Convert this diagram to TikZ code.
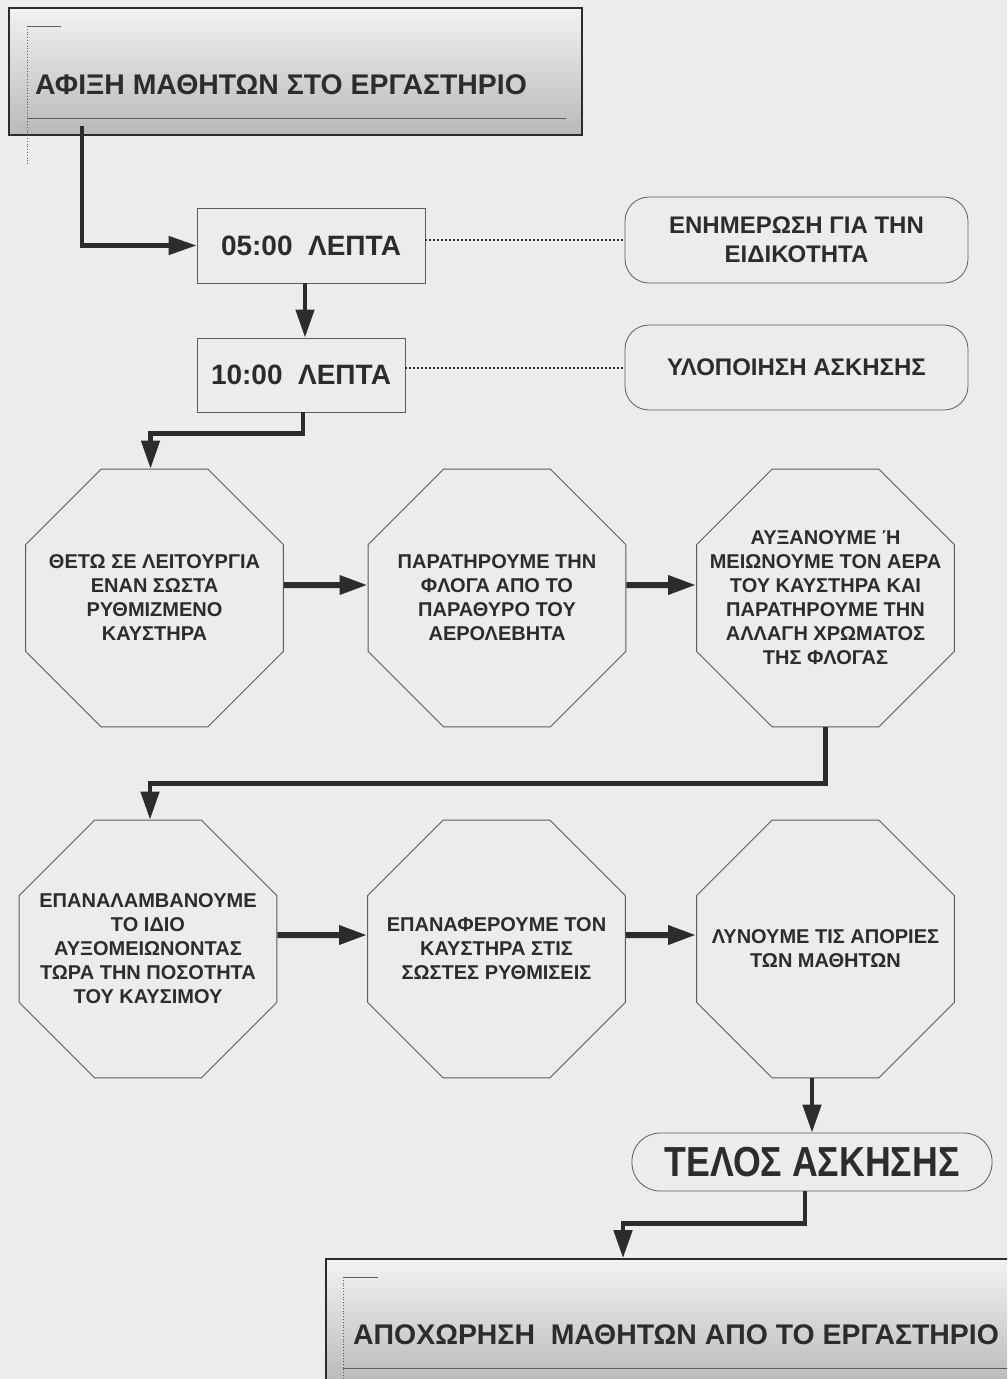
\documentclass[tikz,border=0pt]{standalone}
\usepackage{fontspec}
\setmainfont{Liberation Sans}
\newfontfamily\condfont{Liberation Sans}[FakeStretch=0.85]
\usetikzlibrary{shapes.geometric, arrows.meta, positioning}
\definecolor{paper}{HTML}{ECECEE}
\definecolor{ink}{HTML}{2C2C2C}
\definecolor{edge}{HTML}{5C5C5C}

\begin{document}
\begin{tikzpicture}[
    x=1pt, y=-1pt,
    text=ink,
    titlebox/.style={rectangle, draw=ink, line width=1.6pt, top color=white!90!gray, bottom color=gray!55, minimum width=573pt, minimum height=127pt, inner sep=0pt},
    titletext/.style={anchor=west, inner sep=0pt, font=\fontsize{28.4}{32}\selectfont\bfseries},
    timebox/.style={rectangle, draw=edge, line width=0.8pt, minimum height=75pt, font=\fontsize{28}{32}\selectfont\bfseries},
    notebox/.style={rectangle, rounded corners=24pt, draw=edge, line width=0.8pt, minimum width=343pt, minimum height=86pt, align=center, font=\fontsize{24}{29}\selectfont\bfseries},
    octa/.style={regular polygon, regular polygon sides=8, minimum size=279pt, inner sep=-45pt, draw=edge, line width=0.8pt, align=center, font=\fontsize{20}{24}\selectfont\bfseries},
    endbox/.style={rectangle, rounded corners=28pt, draw=edge, line width=0.8pt, minimum width=360pt, minimum height=58pt, font=\condfont\fontsize{42}{46}\selectfont\bfseries},
    flow/.style={draw=ink, line width=4.5pt, -{Triangle[width=18pt, length=28pt]}},
    push/.style={draw=ink, line width=6pt, -{Triangle[width=18pt, length=28pt]}},
    link/.style={draw=ink, line width=2pt, dotted}
]
    \clip (0,0) rectangle (1007,1379);
    \fill[paper] (0,0) rectangle (1007,1379);

    % arrival
    \node[titlebox] (arrive) at (295.5,71.5) {};
    \node[titletext] (arrivetext) at (35,85) {ΑΦΙΞΗ ΜΑΘΗΤΩΝ ΣΤΟ ΕΡΓΑΣΤΗΡΙΟ};
    \draw[edge, line width=0.8pt] (61,26) -- (27,26);
    \draw[edge, line width=0.8pt, dotted] (27,26) -- (27,165);
    \draw[edge, line width=1pt] (27,118) -- (566,118);

    % time slots and notes
    \node[timebox, minimum width=228pt] (t5) at (311,245.5) {05:00\ \ ΛΕΠΤΑ};
    \node[timebox, minimum width=208pt, minimum height=74pt] (t10) at (301,375) {10:00\ \ ΛΕΠΤΑ};
    \node[notebox] (brief) at (796.5,240) {ΕΝΗΜΕΡΩΣΗ ΓΙΑ ΤΗΝ\\ΕΙΔΙΚΟΤΗΤΑ};
    \node[notebox, minimum height=85pt] (task) at (796.5,367.5) {ΥΛΟΠΟΙΗΣΗ ΑΣΚΗΣΗΣ};

    % steps
    \node[octa] (o1) at (154.5,598) {ΘΕΤΩ ΣΕ ΛΕΙΤΟΥΡΓΙΑ\\ΕΝΑΝ ΣΩΣΤΑ\\ΡΥΘΜΙΖΜΕΝΟ\\ΚΑΥΣΤΗΡΑ};
    \node[octa] (o2) at (497,598) {ΠΑΡΑΤΗΡΟΥΜΕ ΤΗΝ\\ΦΛΟΓΑ ΑΠΟ ΤΟ\\ΠΑΡΑΘΥΡΟ ΤΟΥ\\ΑΕΡΟΛΕΒΗΤΑ};
    \node[octa] (o3) at (825.5,598) {ΑΥΞΑΝΟΥΜΕ Ή\\ΜΕΙΩΝΟΥΜΕ ΤΟΝ ΑΕΡΑ\\ΤΟΥ ΚΑΥΣΤΗΡΑ ΚΑΙ\\ΠΑΡΑΤΗΡΟΥΜΕ ΤΗΝ\\ΑΛΛΑΓΗ ΧΡΩΜΑΤΟΣ\\ΤΗΣ ΦΛΟΓΑΣ};
    \node[octa] (o4) at (148,949) {ΕΠΑΝΑΛΑΜΒΑΝΟΥΜΕ\\ΤΟ ΙΔΙΟ\\ΑΥΞΟΜΕΙΩΝΟΝΤΑΣ\\ΤΩΡΑ ΤΗΝ ΠΟΣΟΤΗΤΑ\\ΤΟΥ ΚΑΥΣΙΜΟΥ};
    \node[octa] (o5) at (496.5,949) {ΕΠΑΝΑΦΕΡΟΥΜΕ ΤΟΝ\\ΚΑΥΣΤΗΡΑ ΣΤΙΣ\\ΣΩΣΤΕΣ ΡΥΘΜΙΣΕΙΣ};
    \node[octa] (o6) at (825.5,949) {ΛΥΝΟΥΜΕ ΤΙΣ ΑΠΟΡΙΕΣ\\ΤΩΝ ΜΑΘΗΤΩΝ};

    \node[endbox] (endex) at (812,1162) {ΤΕΛΟΣ ΑΣΚΗΣΗΣ};

    % departure
    \node[titlebox, minimum width=714pt] (depart) at (683,1322.5) {};
    \node[titletext] (departtext) at (353,1335) {ΑΠΟΧΩΡΗΣΗ\ \ ΜΑΘΗΤΩΝ ΑΠΟ ΤΟ ΕΡΓΑΣΤΗΡΙΟ};
    \draw[edge, line width=0.8pt] (378,1277) -- (343,1277);
    \draw[edge, line width=0.8pt, dotted] (343,1277) -- (343,1390);
    \draw[edge, line width=1pt] (343,1368) -- (1030,1368);

    % connectors
    \draw[flow] ([xshift=74pt, yshift=10pt]arrive.south west) |- (t5.west);
    \coordinate (a5) at ([xshift=-6pt]t5.south);
    \draw[flow] (a5) -- (a5 |- t10.north);
    \draw[link] (t5.east |- brief.west) -- (brief.west);
    \draw[link] (t10.east |- task.west) -- (task.west);
    \draw[flow] ([xshift=2pt]t10.south) -- ++(0,21) -| ([xshift=-4pt]o1.north);
    \draw[push] ([yshift=13pt]o1.east) -- ([yshift=13pt]o2.west);
    \draw[push] ([yshift=13pt]o2.east) -- ([yshift=13pt]o3.west);
    \draw[flow] (o3.south) -- ++(0,56) -| ([xshift=2pt]o4.north);
    \draw[push] ([yshift=14pt]o4.east) -- ([yshift=14pt]o5.west);
    \draw[push] ([yshift=14pt]o5.east) -- ([yshift=14pt]o6.west);
    \draw[flow] (endex.north |- o6.south) -- (endex.north);
    \draw[flow] ([xshift=-7pt]endex.south) -- ++(0,32) -| ([xshift=-60pt]depart.north);
\end{tikzpicture}
\end{document}
